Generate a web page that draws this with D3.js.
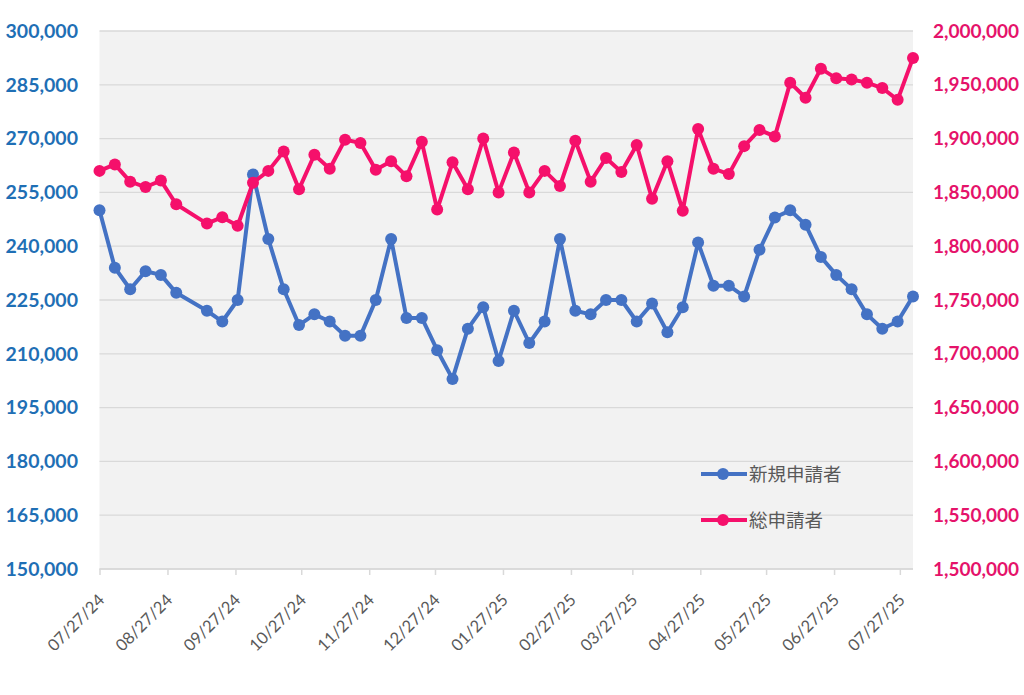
<!DOCTYPE html>
<html>
<head>
<meta charset="utf-8">
<script src="https://cdn.jsdelivr.net/npm/d3@7"></script>
<style>
  html, body { margin: 0; padding: 0; background: #ffffff; }
  svg { display: block; }
</style>
</head>
<body>
<svg id="chart" width="1024" height="695"></svg>
<script>
// ---- data ----
const dates = [
  "2024-07-27","2024-08-03","2024-08-10","2024-08-17","2024-08-24","2024-08-31",
  "2024-09-14","2024-09-21","2024-09-28","2024-10-05","2024-10-12","2024-10-19","2024-10-26",
  "2024-11-02","2024-11-09","2024-11-16","2024-11-23","2024-11-30",
  "2024-12-07","2024-12-14","2024-12-21","2024-12-28",
  "2025-01-04","2025-01-11","2025-01-18","2025-01-25",
  "2025-02-01","2025-02-08","2025-02-15","2025-02-22",
  "2025-03-01","2025-03-08","2025-03-15","2025-03-22","2025-03-29",
  "2025-04-05","2025-04-12","2025-04-19","2025-04-26",
  "2025-05-03","2025-05-10","2025-05-17","2025-05-24","2025-05-31",
  "2025-06-07","2025-06-14","2025-06-21","2025-06-28",
  "2025-07-05","2025-07-12","2025-07-19","2025-07-26","2025-08-02"
];
const initialClaims = [
  250000,234000,228000,233000,232000,227000,
  222000,219000,225000,260000,242000,228000,218000,
  221000,219000,215000,215000,225000,
  242000,220000,220000,211000,
  203000,217000,223000,208000,
  222000,213000,219000,242000,
  222000,221000,225000,225000,219000,
  224000,216000,223000,241000,
  229000,229000,226000,239000,248000,
  250000,246000,237000,232000,
  228000,221000,217000,219000,226000
];
const totalClaims = [
  1870000,1876000,1860000,1855000,1861000,1839000,
  1821000,1827000,1819000,1859000,1870000,1888000,1853000,
  1885000,1872000,1899000,1896000,1871000,
  1879000,1865000,1897000,1834000,
  1878000,1853000,1900000,1850000,
  1887000,1850000,1870000,1856000,
  1898000,1860000,1882000,1869000,1894000,
  1844000,1879000,1833000,1909000,
  1872000,1867000,1893000,1908000,1902000,
  1952000,1938000,1965000,1956000,
  1955000,1952000,1947000,1936000,1975000
];
const xTickLabels = ["07/27/24","08/27/24","09/27/24","10/27/24","11/27/24","12/27/24",
  "01/27/25","02/27/25","03/27/25","04/27/25","05/27/25","06/27/25","07/27/25"];
const leftTicks = [150000,165000,180000,195000,210000,225000,240000,255000,270000,285000,300000];
const rightTicks = [1500000,1550000,1600000,1650000,1700000,1750000,1800000,1850000,1900000,1950000,2000000];
const seriesNames = ["新規申請者","総申請者"];

// ---- layout ----
const svg = d3.select("#chart");
const L = 99.5, R = 913, T = 31, B = 569;
const blue = "#4472C4", red = "#F5106B";
const blueText = "#1F6FB5", redText = "#E5126A";
const parse = d3.timeParse("%Y-%m-%d");
const parseTick = d3.timeParse("%m/%d/%y");
const fmt = d3.format(",");

const x = d3.scaleTime()
  .domain([parse("2024-07-27"), parse("2025-08-02")])
  .range([L, R]);
const yL = d3.scaleLinear().domain([150000, 300000]).range([B, T]);
const yR = d3.scaleLinear().domain([1500000, 2000000]).range([B, T]);

// plot background
svg.append("rect").attr("x", L).attr("y", T).attr("width", R - L).attr("height", B - T)
  .attr("fill", "#F2F2F2");

// gridlines
svg.append("g").selectAll("line").data(leftTicks).join("line")
  .attr("x1", L).attr("x2", R)
  .attr("y1", d => yL(d)).attr("y2", d => yL(d))
  .attr("stroke", "#D9D9D9").attr("stroke-width", 1.3);

// x axis
const xTicks = xTickLabels.map(s => parseTick(s));
const xAxis = d3.axisBottom(x).tickValues(xTicks).tickSize(6).tickFormat("");
const gx = svg.append("g").attr("transform", `translate(0,${B})`).call(xAxis);
gx.select(".domain").attr("stroke", "#D9D9D9").attr("stroke-width", 1.5)
  .attr("d", `M${L},0H${R}`);
gx.selectAll(".tick line").attr("stroke", "#D9D9D9").attr("stroke-width", 1.5);

svg.append("g").selectAll("text").data(xTickLabels).join("text")
  .attr("transform", d => `translate(${x(parseTick(d)) + 2},${B + 28}) rotate(-45)`)
  .attr("text-anchor", "end")
  .attr("dy", "0.35em")
  .attr("font-family", "Lato, 'Open Sans', sans-serif")
  .attr("font-size", 16.5)
  .attr("fill", "#595959")
  .text(d => d);

// left axis labels
const yAxisL = d3.axisLeft(yL).tickValues(leftTicks).tickSize(0).tickPadding(0).tickFormat(fmt);
const gyl = svg.append("g").attr("transform", `translate(78,0)`).call(yAxisL);
gyl.select(".domain").remove();
gyl.selectAll("text").attr("font-family", "Lato, sans-serif").attr("font-weight", "bold")
  .attr("font-size", 19.5).attr("fill", blueText).attr("text-anchor", "end");

// right axis labels
const yAxisR = d3.axisRight(yR).tickValues(rightTicks).tickSize(0).tickPadding(0).tickFormat(fmt);
const gyr = svg.append("g").attr("transform", `translate(933,0)`).call(yAxisR);
gyr.select(".domain").remove();
gyr.selectAll("text").attr("font-family", "Lato, sans-serif").attr("font-weight", "bold")
  .attr("font-size", 19).attr("fill", redText).attr("text-anchor", "start");

// series
const blueData = dates.map((d, i) => ({ d: parse(d), v: initialClaims[i] }));
const redData = dates.map((d, i) => ({ d: parse(d), v: totalClaims[i] }));

function drawSeries(data, yScale, color) {
  const line = d3.line().x(p => x(p.d)).y(p => yScale(p.v));
  svg.append("path").datum(data).attr("d", line)
    .attr("fill", "none").attr("stroke", color).attr("stroke-width", 4)
    .attr("stroke-linejoin", "round").attr("stroke-linecap", "round");
  svg.append("g").selectAll("circle").data(data).join("circle")
    .attr("cx", p => x(p.d)).attr("cy", p => yScale(p.v)).attr("r", 6)
    .attr("fill", color);
}
drawSeries(blueData, yL, blue);
drawSeries(redData, yR, red);

// legend
const legend = [
  { name: seriesNames[0], color: blue, y: 474 },
  { name: seriesNames[1], color: red, y: 520 }
];
const lg = svg.append("g").selectAll("g").data(legend).join("g");
lg.append("line").attr("x1", 701).attr("x2", 747).attr("y1", d => d.y).attr("y2", d => d.y)
  .attr("stroke", d => d.color).attr("stroke-width", 4);
lg.append("circle").attr("cx", 723).attr("cy", d => d.y).attr("r", 6).attr("fill", d => d.color);
lg.append("text").attr("x", 749).attr("y", d => d.y).attr("dy", "0.36em")
  .attr("font-family", "'Noto Sans CJK JP', sans-serif").attr("font-size", 18.5)
  .attr("fill", "#595959").text(d => d.name);
</script>
</body>
</html>
